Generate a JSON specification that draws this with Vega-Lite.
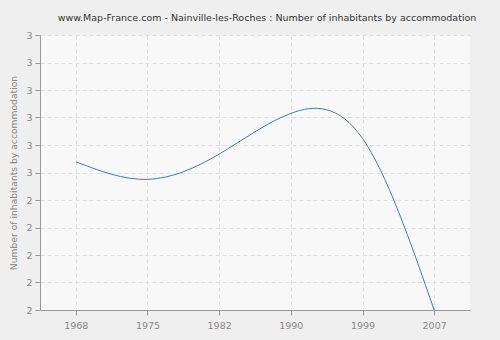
{
  "$schema": "https://vega.github.io/schema/vega-lite/v6.json",
  "autosize": "none",
  "width": 430,
  "height": 275,
  "padding": {"left": 40, "top": 35, "right": 30, "bottom": 30},
  "background": "#efefef",
  "title": {
    "text": "www.Map-France.com - Nainville-les-Roches : Number of inhabitants by accommodation",
    "anchor": "middle",
    "dx": 12,
    "offset": 8,
    "font": "DejaVu Sans",
    "fontSize": 9.5,
    "fontWeight": "normal",
    "color": "#333333"
  },
  "config": {
    "view": {"fill": "#f8f8f8", "stroke": null},
    "axis": {
      "labelFont": "DejaVu Sans",
      "labelFontSize": 9.5,
      "labelColor": "#888888",
      "titleFont": "DejaVu Sans",
      "titleFontSize": 9.2,
      "titleFontWeight": "normal",
      "titleColor": "#888888",
      "domainColor": "#999999",
      "tickColor": "#999999",
      "tickSize": 5,
      "gridColor": "#e0e0e0",
      "gridDash": [4, 3]
    }
  },
  "data": {
    "values": [
      {"year": "1968", "value": 2.539},
      {"year": "1975", "value": 2.475},
      {"year": "1982", "value": 2.567},
      {"year": "1990", "value": 2.715},
      {"year": "1999", "value": 2.624},
      {"year": "2007", "value": 2.0}
    ]
  },
  "mark": {"type": "line", "interpolate": "natural", "color": "#4a79b0", "strokeWidth": 1, "clip": true},
  "encoding": {
    "x": {
      "field": "year",
      "type": "ordinal",
      "scale": {"type": "point", "padding": 0.5},
      "axis": {"title": null, "labelAngle": 0, "grid": true, "labelPadding": 5}
    },
    "y": {
      "field": "value",
      "type": "quantitative",
      "scale": {"domain": [2, 3], "nice": false, "zero": false},
      "axis": {
        "title": "Number of inhabitants by accommodation",
        "values": [2, 2.1, 2.2, 2.3, 2.4, 2.5, 2.6, 2.7, 2.8, 2.9, 3],
        "format": ".0f",
        "grid": true,
        "labelPadding": 3,
        "titlePadding": 7
      }
    }
  }
}
